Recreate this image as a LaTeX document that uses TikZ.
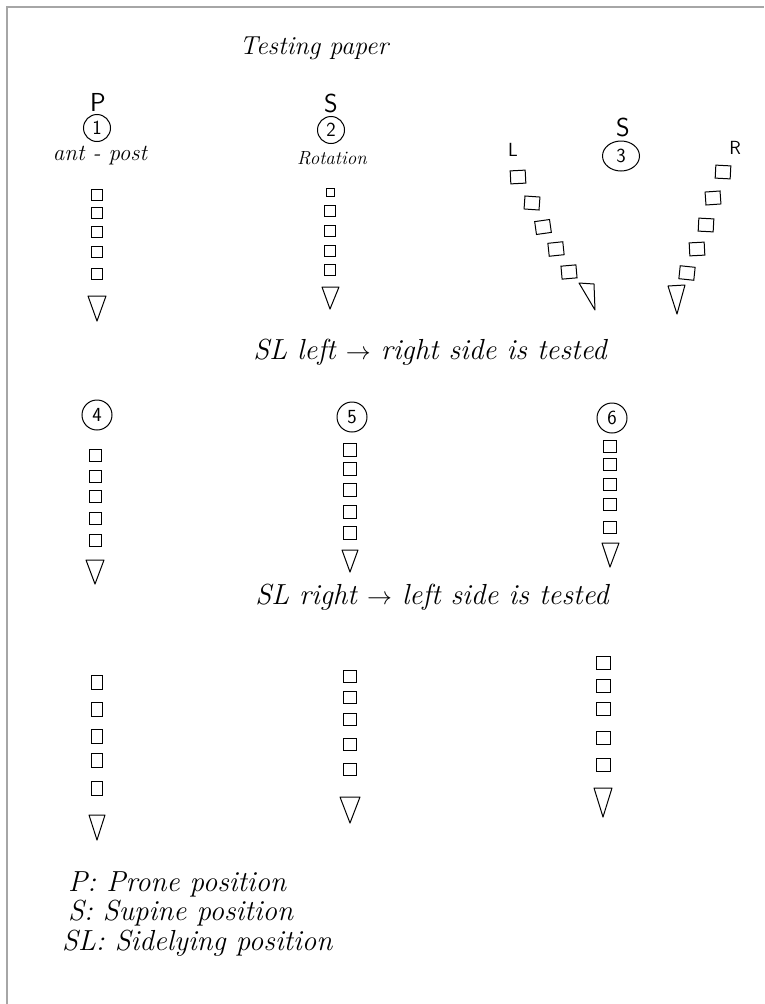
\documentclass[tikz,border=0pt]{standalone}
\usetikzlibrary{shapes.geometric}
\begin{document}
\begin{tikzpicture}[x=1pt,y=-1pt,
  hand/.style={font=\fontsize{29}{32}\selectfont\itshape, inner sep=0pt},
  small/.style={font=\fontsize{23}{26}\selectfont\itshape, inner sep=0pt},
  letter/.style={font=\fontsize{26}{28}\selectfont\sffamily, inner sep=0pt},
  circ/.style={draw, circle, line width=1pt, minimum size=27pt, inner sep=0pt, font=\fontsize{20}{22}\selectfont\sffamily},
  sq/.style={draw, line width=1pt, inner sep=0pt, minimum width=11pt, minimum height=11pt},
  tri/.style={draw, line width=1pt, line join=round},
  frame/.style={draw=black!35, line width=2.2pt}
]
\useasboundingbox (0,0) rectangle (764,1004);
\draw[frame] (7,1004) -- (7,7) -- (764,7);

% title
\node[hand, font=\fontsize{26}{30}\selectfont\itshape] (title) at (314,48) {Testing paper};

% ---------- column 1 ----------
\node[letter] (P1) at (98,102) {P};
\node[circ] (c1) at (97,128) {1};
\node[small] (ap) at (100,156) {ant - post};
\foreach \y [count=\i] in {195,213,232,252,274}
  \node[sq] (a\i) at (97,\y) {};
\draw[tri] (88,296) -- (106,296) -- (97,321) -- cycle;

% ---------- column 2 ----------
\node[letter] (S2) at (331,103) {S};
\node[circ] (c2) at (331,130) {2};
\node[small, font=\fontsize{19}{22}\selectfont\itshape] (rot) at (332,158) {Rotation};
\node[sq, minimum width=8pt, minimum height=8pt] (b1) at (330,192) {};
\foreach \y [count=\i from 2] in {211,231,251,270}
  \node[sq] (b\i) at (330,\y) {};
\draw[tri] (322,287) -- (339,287) -- (330,309) -- cycle;

% ---------- column 3 ----------
\node[letter] (S3) at (623,127) {S};
\node[draw, ellipse, line width=1pt, minimum width=37pt, minimum height=30pt, inner sep=0pt,
      font=\fontsize{20}{22}\selectfont\sffamily] (c3) at (621,156) {3};
\node[letter, font=\fontsize{19}{22}\selectfont\sffamily] (L) at (513,150) {L};
\node[letter, font=\fontsize{19}{22}\selectfont\sffamily] (R) at (735,148) {R};
\foreach \x/\y/\r [count=\i] in {518/177/3, 532/203/-4, 543/227/8, 556/249/6, 569/272/5}
  \node[sq, minimum width=15pt, minimum height=13pt, rotate=\r] (l\i) at (\x,\y) {};
\draw[tri] (579,283) -- (594,284) -- (595,310) -- cycle;
\foreach \x/\y/\r [count=\i] in {723/172/-3, 713/198/4, 706/225/-3, 697/249/3, 687/273/-6}
  \node[sq, minimum width=15pt, minimum height=13pt, rotate=\r] (r\i) at (\x,\y) {};
\draw[tri] (668,286) -- (685,285) -- (677,314) -- cycle;

\node[hand] (t1) at (430,352) {SL left $\rightarrow$ right side is tested};

% ---------- row 2 ----------
\node[circ, minimum size=30pt] (c4) at (97,415) {4};
\foreach \y [count=\i] in {455,476,496,518,540}
  \node[sq, minimum width=12pt, minimum height=12pt] (d\i) at (95,\y) {};
\draw[tri] (86,560) -- (104,560) -- (95,584) -- cycle;

\node[circ, minimum size=30pt] (c5) at (352,417) {5};
\foreach \y [count=\i] in {450,469,490,512,533}
  \node[sq, minimum width=13pt, minimum height=13pt] (e\i) at (350,\y) {};
\draw[tri] (342,550) -- (358,550) -- (350,572) -- cycle;

\node[circ, minimum size=30pt] (c6) at (612,418) {6};
\foreach \y [count=\i] in {446,464,484,504,527}
  \node[sq, minimum width=13pt, minimum height=12pt] (f\i) at (610,\y) {};
\draw[tri] (602,543) -- (619,543) -- (610,567) -- cycle;

\node[hand] (t2) at (432,597) {SL right $\rightarrow$ left side is tested};

% ---------- row 3 ----------
\foreach \y [count=\i] in {682,709,736,760,788}
  \node[sq, minimum width=11pt, minimum height=14pt] (g\i) at (97,\y) {};
\draw[tri] (89,815) -- (105,815) -- (97,840) -- cycle;

\foreach \y [count=\i] in {676,697,719,744,769}
  \node[sq, minimum width=13pt, minimum height=12pt] (h\i) at (350,\y) {};
\draw[tri] (340,797) -- (360,797) -- (350,823) -- cycle;

\foreach \y [count=\i] in {663,686,709,738,765}
  \node[sq, minimum width=14pt, minimum height=13pt] (k\i) at (603,\y) {};
\draw[tri] (594,788) -- (612,788) -- (603,817) -- cycle;

% ---------- legend ----------
\node[hand, anchor=west] (leg1) at (68,884) {P: Prone position};
\node[hand, anchor=west] (leg2) at (68,913) {S: Supine position};
\node[hand, anchor=west] (leg3) at (62,943) {SL: Sidelying position};
\end{tikzpicture}
\end{document}
